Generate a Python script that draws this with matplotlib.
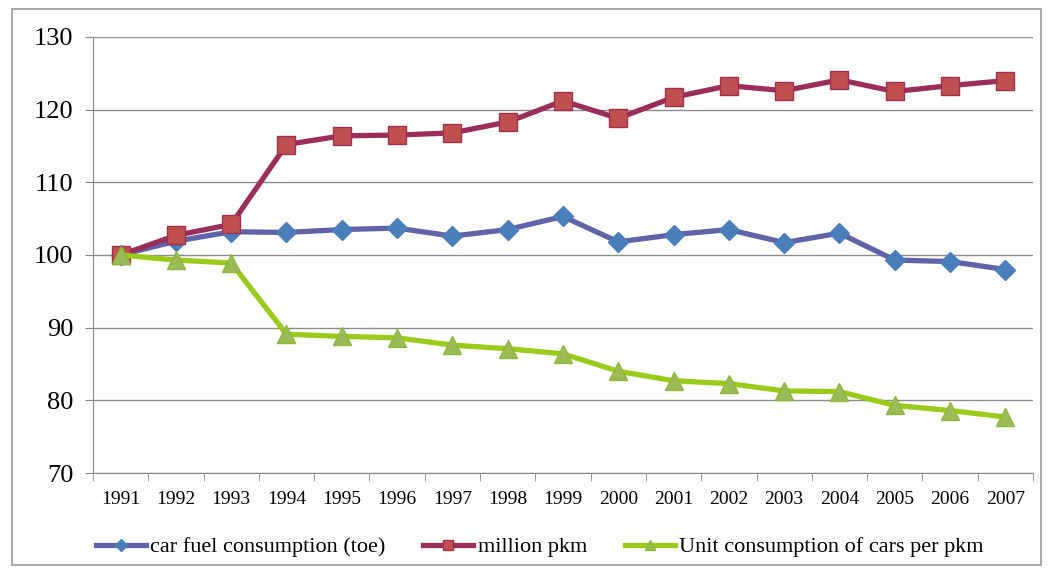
import matplotlib
matplotlib.use("Agg")
import matplotlib.pyplot as plt
from matplotlib.patches import Rectangle
import numpy as np

years = ["1991", "1992", "1993", "1994", "1995", "1996", "1997", "1998", "1999",
         "2000", "2001", "2002", "2003", "2004", "2005", "2006", "2007"]
fuel = [100, 101.9, 103.2, 103.1, 103.5, 103.7, 102.6, 103.5, 105.3,
        101.8, 102.8, 103.5, 101.7, 103.0, 99.3, 99.1, 98.0]
pkm = [100, 102.7, 104.2, 115.2, 116.4, 116.5, 116.8, 118.3, 121.2,
       118.8, 121.7, 123.3, 122.6, 124.1, 122.5, 123.3, 124.0]
unit = [100, 99.3, 98.9, 89.1, 88.8, 88.6, 87.6, 87.1, 86.4,
        84.0, 82.7, 82.3, 81.3, 81.2, 79.3, 78.6, 77.7]
labels = ["car fuel consumption (toe)", "million pkm", "Unit consumption of cars per pkm"]
yticks = [70, 80, 90, 100, 110, 120, 130]

plt.rcParams['font.family'] = ['Liberation Serif', 'DejaVu Serif']

fig = plt.figure(figsize=(10.48, 5.73), dpi=100)
fig.patches.append(Rectangle((0.011, 0.014), 0.982, 0.97, transform=fig.transFigure,
                             fill=False, edgecolor='#9a9a9a', linewidth=1.2))
ax = fig.add_axes([0.0887, 0.1745, 0.897, 0.761])

x = np.arange(len(years))
ax.plot(x, fuel, color='#6063A8', lw=3.8, marker='D', ms=10, mfc='#4A7EBB',
        mec='#4A7EBB', label=labels[0], zorder=3)
ax.plot(x, pkm, color='#9B2D5A', lw=3.8, marker='s', ms=13, mfc='#C0504D',
        mec='#A03050', mew=1, label=labels[1], zorder=4)
ax.plot(x, unit, color='#9BCB1A', lw=3.8, marker='^', ms=13, mfc='#9BBB59',
        mec='#8DB83A', label=labels[2], zorder=5)

ax.set_xlim(-0.5, len(years) - 0.5)
ax.set_ylim(70, 130)
ax.set_yticks(yticks)
ax.set_yticklabels([str(v) for v in yticks], fontsize=19)
ax.set_xticks(x)
ax.set_xticklabels(years, fontsize=14)
ax.set_xticks(np.arange(-0.5, len(years), 1), minor=True)
ax.tick_params(axis='x', which='major', length=0, pad=13)
ax.tick_params(axis='x', which='minor', length=6, color='#888888', direction='out')
ax.tick_params(axis='y', length=6, color='#888888', direction='out', pad=8)
ax.grid(axis='y', color='#8c8c8c', lw=1)
ax.set_axisbelow(True)
for s in ['top', 'right']:
    ax.spines[s].set_visible(False)
for s in ['left', 'bottom']:
    ax.spines[s].set_color('#888888')

leg = fig.legend(loc='center', bbox_to_anchor=(0.515, 0.045), ncol=3, frameon=False,
                 handlelength=2.25, columnspacing=1.7, handletextpad=0.2,
                 markerscale=0.6, prop={'size': 16})

fig.savefig("out.png", dpi=100)
